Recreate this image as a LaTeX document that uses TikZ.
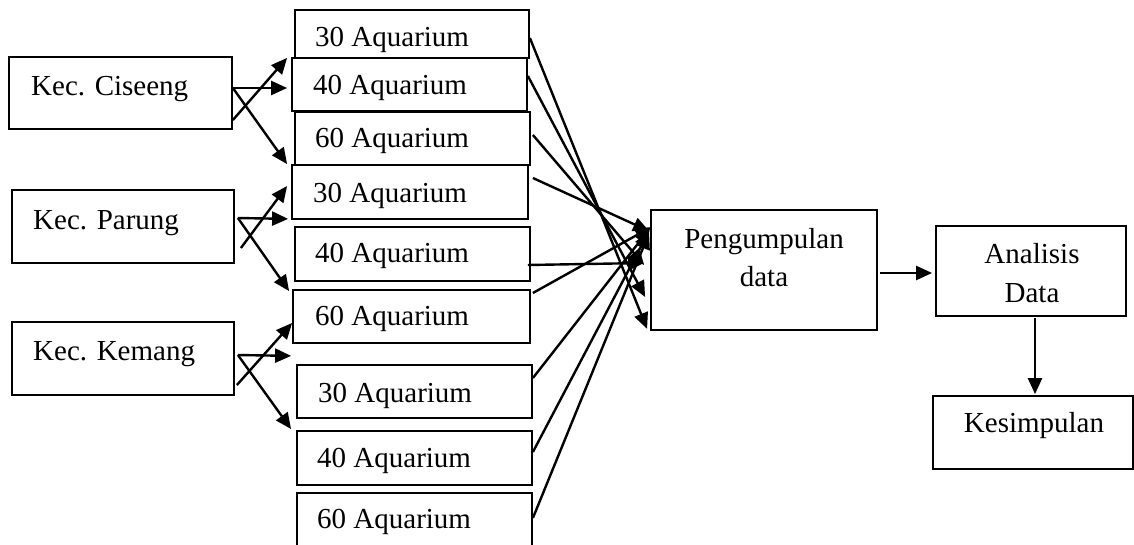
\documentclass[tikz,border=0pt]{standalone}
\usepackage{fontspec}
\setmainfont{Liberation Serif}
\usetikzlibrary{arrows.meta,calc}
\begin{document}
\begin{tikzpicture}[x=1pt,y=-1pt,
  box/.style={draw,line width=1.8pt,inner sep=0pt},
  lbl/.style={inner sep=0pt,anchor=base west,font=\fontsize{29}{38}\selectfont},
  clbl/.style={inner sep=0pt,anchor=base,font=\fontsize{29}{38}\selectfont},
  arr/.style={line width=2.4pt,-{Triangle[length=16pt,width=14pt]}}]
\useasboundingbox (0,0) rectangle (1134,545);
% left boxes
\node[box,minimum width=223pt,minimum height=72pt] (cis) at (120.5,93) {};
\node[box,minimum width=222pt,minimum height=73pt] (par) at (123,226.5) {};
\node[box,minimum width=222pt,minimum height=73pt] (kem) at (123,358.5) {};
\node[lbl] (tcis) at (31,96) {Kec. Ciseeng};
\node[lbl] (tpar) at (33,230) {Kec. Parung};
\node[lbl] (tkem) at (33,360) {Kec. Kemang};
% aquarium boxes
\node[box,minimum width=234pt,minimum height=48pt] (a1) at (412,34) {};
\node[box,minimum width=235pt,minimum height=53pt] (a2) at (409.5,84.5) {};
\node[box,minimum width=235pt,minimum height=53pt] (a3) at (412.5,138.5) {};
\node[box,minimum width=236pt,minimum height=54pt] (a4) at (410,192) {};
\node[box,minimum width=235pt,minimum height=54pt] (a5) at (412.5,254) {};
\node[box,minimum width=237pt,minimum height=53pt] (a6) at (411.5,316.5) {};
\node[box,minimum width=235pt,minimum height=53pt] (a7) at (414.5,391.5) {};
\node[box,minimum width=235pt,minimum height=54pt] (a8) at (414.5,458) {};
\node[box,minimum width=235pt,minimum height=57pt] (a9) at (414.5,521.5) {};
\node[lbl] (ta1) at (315,47) {30 Aquarium};
\node[lbl] (ta2) at (313,95) {40 Aquarium};
\node[lbl] (ta3) at (315,148) {60 Aquarium};
\node[lbl] (ta4) at (313,203) {30 Aquarium};
\node[lbl] (ta5) at (315,262) {40 Aquarium};
\node[lbl] (ta6) at (315,325) {60 Aquarium};
\node[lbl] (ta7) at (318,402) {30 Aquarium};
\node[lbl] (ta8) at (317,467) {40 Aquarium};
\node[lbl] (ta9) at (317,528) {60 Aquarium};
% right boxes
\node[box,minimum width=226pt,minimum height=120pt] (peng) at (764,270) {};
\node[box,minimum width=190pt,minimum height=90pt] (ana) at (1031,271) {};
\node[box,minimum width=200pt,minimum height=73pt] (kes) at (1033,432.5) {};
\node[clbl] (tpeng1) at (764,248) {Pengumpulan};
\node[clbl] (tpeng2) at (764,286) {data};
\node[clbl] (tana1) at (1032,263) {Analisis};
\node[clbl] (tana2) at (1032,302) {Data};
\node[clbl] (tkes) at (1034,432) {Kesimpulan};
% Ciseeng arrows
\draw[arr] ($(cis.east)+(0,-5)$) -- ($(a2.west)+(-4,3.5)$);
\draw[arr] ($(cis.east)+(0,27)$) -- ($(a1.south west)+(-7,-1)$);
\draw[arr] ($(cis.east)+(0,-5)$) -- ($(a4.north west)+(-4,0)$);
% Parung arrows
\draw[arr] ($(par.east)+(3,-8.5)$) -- ($(a4.south west)+(-3,-1)$);
\draw[arr] ($(par.east)+(6,21.5)$) -- ($(a4.west)+(-4,-6)$);
\draw[arr] ($(par.east)+(3,-8.5)$) -- ($(a6.north west)+(-3,2)$);
% Kemang arrows
\draw[arr] ($(kem.east)+(3,-3.5)$) -- ($(a6.south west)+(-1,12)$);
\draw[arr] ($(kem.east)+(2,26.5)$) -- ($(a6.west)+(0,6.5)$);
\draw[arr] ($(kem.east)+(3,-3.5)$) -- ($(a8.north west)+(-5,-1)$);
% aquarium to Pengumpulan
\draw[arr] ($(a1.east)+(0,4)$) -- ($(peng.south west)+(-3,-2)$);
\draw[arr] ($(a2.east)+(0,-8.5)$) -- ($(peng.west)+(-5,27)$);
\draw[arr] ($(a3.east)+(2,-3.5)$) -- ($(peng.west)+(-6,-5)$);
\draw[arr] ($(a4.east)+(4,-14)$) -- ($(peng.north west)+(-1,22)$);
\draw[arr] ($(a5.east)+(-3,11)$) -- ($(peng.west)+(-6,-7)$);
\draw[arr] ($(a6.east)+(2,-23.5)$) -- ($(peng.north west)+(1,18)$);
\draw[arr] ($(a7.east)+(0,-13.5)$) -- ($(peng.north west)+(0,19)$);
\draw[arr] ($(a8.east)+(0,-6)$) -- ($(peng.north west)+(-1,22)$);
\draw[arr] ($(a9.east)+(0,-3.5)$) -- ($(peng.north west)+(-1,24)$);
% flow
\draw[arr] ($(peng.east)+(2,3)$) -- ($(ana.west)+(-3,2)$);
\draw[arr] ($(ana.south)+(4,1)$) -- ($(kes.north)+(2,-1)$);
\end{tikzpicture}
\end{document}
